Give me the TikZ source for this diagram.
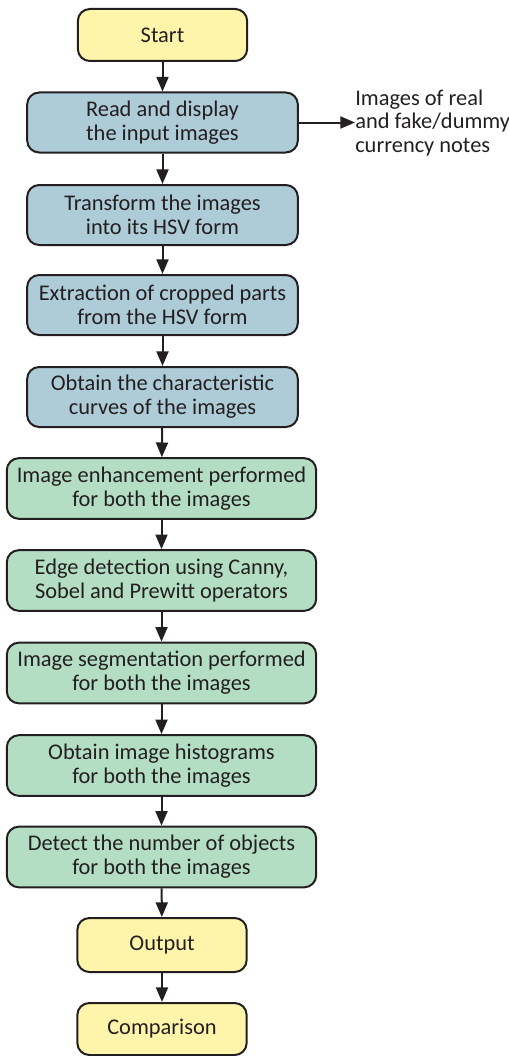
\documentclass[tikz,border=0pt]{standalone}
\usepackage{fontspec}
\setmainfont{Carlito}
\usetikzlibrary{arrows.meta}
\definecolor{termyellow}{RGB}{255,245,170}
\definecolor{stageblue}{RGB}{174,203,216}
\definecolor{stagegreen}{RGB}{179,222,196}
\definecolor{edgedark}{RGB}{35,31,32}
\tikzset{
	flowbox/.style={draw=edgedark, line width=1.5pt, rounded corners=9pt,
		align=center, inner sep=0pt, text=edgedark,
		font=\fontsize{16.8}{17.8}\selectfont},
	termbox/.style={flowbox, fill=termyellow, minimum width=127pt, minimum height=39pt},
	bluebox/.style={flowbox, fill=stageblue, minimum width=203pt, minimum height=45pt},
	greenbox/.style={flowbox, fill=stagegreen, minimum width=232pt, minimum height=45.5pt},
	flowarrow/.style={draw=edgedark, line width=1.5pt, -{Triangle[length=11pt,width=9pt]}}
}
\begin{document}
\begin{tikzpicture}[x=0.75pt,y=-0.75pt]
	\useasboundingbox (0,0) rectangle (509,1056);
	
	\node[termbox] (start) at (162.5,35) {Start};
	\node[bluebox] (read) at (162.5,122.5) {Read and display\\the input images};
	\node[bluebox] (hsv) at (162.5,215) {Transform the images\\into its HSV form};
	\node[bluebox] (crop) at (162.5,305) {Extraction of cropped parts\\from the HSV form};
	\node[bluebox] (curves) at (162.5,397) {Obtain the characteristic\\curves of the images};
	\node[greenbox] (enhance) at (161.5,488.5) {Image enhancement performed\\for both the images};
	\node[greenbox] (edge) at (161.5,580.5) {Edge detection using Canny,\\Sobel and Prewitt operators};
	\node[greenbox] (segment) at (161.5,673) {Image segmentation performed\\for both the images};
	\node[greenbox] (hist) at (161.5,765.5) {Obtain image histograms\\for both the images};
	\node[greenbox] (objects) at (161.5,857) {Detect the number of objects\\for both the images};
	\node[termbox, minimum height=40.5pt] (output) at (162,945) {Output};
	\node[termbox] (compare) at (162,1029) {Comparison};
	
	\node[anchor=west, align=left, inner sep=0pt, text=edgedark,
		font=\fontsize{16.8}{17.8}\selectfont] (notes) at (355,123)
		{Images of real\\and fake/dummy\\currency notes};
	
	\foreach \a/\b in {start/read,read/hsv,hsv/crop,crop/curves,curves/enhance,%
		enhance/edge,edge/segment,segment/hist,hist/objects,objects/output,output/compare}
		\draw[flowarrow] (\a) -- (\b);
	\draw[flowarrow] (read.east) -- (notes.west |- read.east);
\end{tikzpicture}
\end{document}
